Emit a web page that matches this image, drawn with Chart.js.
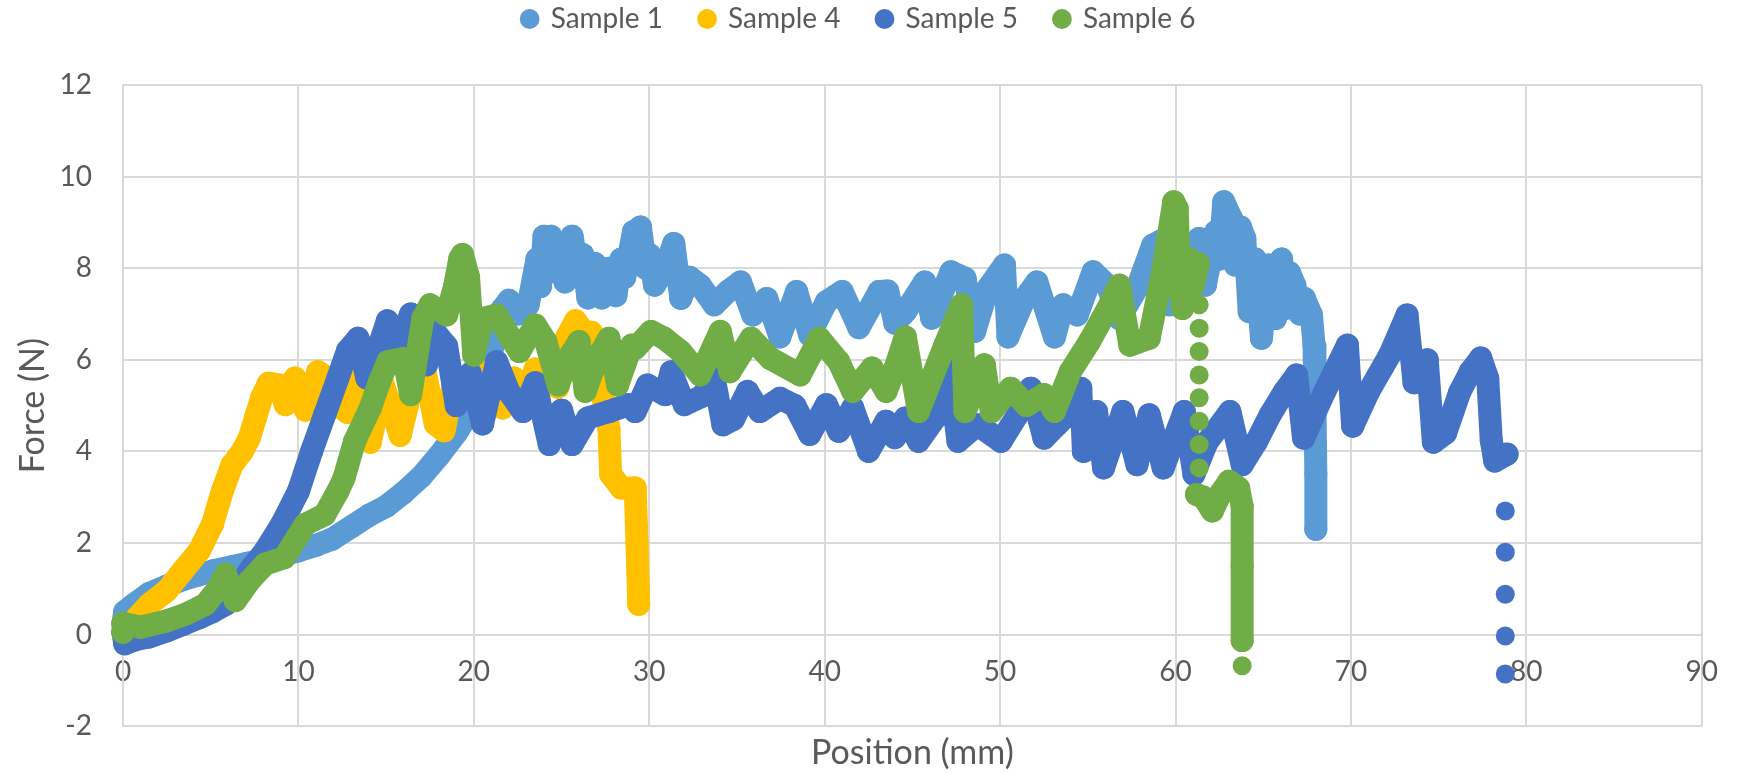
<!DOCTYPE html>
<html>
<head>
<meta charset="utf-8">
<title>Force vs Position</title>
<script src="https://cdn.jsdelivr.net/npm/chart.js@4.4.0/dist/chart.umd.min.js"></script>
<style>
  html, body { margin: 0; padding: 0; background: #fff; }
  #wrap { width: 1739px; height: 774px; }
</style>
</head>
<body>
<div id="wrap"><canvas id="forceChart" width="1739" height="774"></canvas></div>
<script>
// Force (N) against position (mm)
const seriesNames = ['Sample 1', 'Sample 4', 'Sample 5', 'Sample 6'];
const seriesColors = ['#5B9BD5', '#FFC000', '#4472C4', '#70AD47'];
const xTicks = [0, 10, 20, 30, 40, 50, 60, 70, 80, 90];
const yTicks = [-2, 0, 2, 4, 6, 8, 10, 12];

// [position, force]
const sample1 = [
  [0,0.25],[0.1,0.5],[0.6,0.65],[1.5,0.9],[2.5,1.06],[3.4,1.2],[4.3,1.3],[5.2,1.4],[6.2,1.48],[7.1,1.56],
  [8.1,1.64],[9,1.73],[10,1.83],[11,1.95],[11.9,2.08],[13,2.35],[14,2.6],[15,2.8],[16,3.1],[17,3.45],
  [18,3.9],[19,4.4],[20,5.0],[20.6,5.6],[21.1,6.3],[21.6,7.1],[22,7.3],[22.5,7.0],[23.1,7.2],[23.6,8.2],
  [23.8,7.6],[24,8.7],[24.2,7.9],[24.4,8.7],[24.8,7.9],[25,8.4],[25.2,7.7],[25.6,8.7],[25.9,8.0],[26.2,8.3],
  [26.5,7.35],[26.9,8.1],[27.3,7.35],[27.7,8.0],[28.1,7.4],[28.4,8.2],[28.6,7.8],[29.1,8.8],[29.3,8.1],[29.5,8.9],
  [29.8,8.0],[30,8.3],[30.3,7.63],[30.9,8.0],[31.4,8.54],[31.8,7.34],[32.3,7.8],[32.9,7.63],[33.7,7.2],[34.5,7.5],
  [35.2,7.7],[35.9,6.98],[36.7,7.34],[37.45,6.5],[38.4,7.49],[39.15,6.54],[40.1,7.27],[41,7.49],[41.95,6.7],[43.1,7.49],
  [43.6,7.5],[44,6.8],[44.6,7.05],[45.7,7.7],[46.1,6.91],[47.2,7.92],[48,7.78],[48.55,6.62],[49.3,7.56],[50.25,8.07],
  [50.45,6.5],[51.4,7.34],[52.1,7.7],[53.1,6.5],[53.6,7.2],[54.4,6.98],[55.3,7.92],[56.1,7.63],[56.8,6.9],[57.8,7.56],
  [58.7,8.5],[59.2,8.6],[59.65,7.2],[60.2,7.5],[60.8,8.3],[61.35,8.65],[61.7,7.63],[62.3,8.8],[62.5,8.2],[62.75,9.45],
  [63.2,9.08],[63.4,8.07],[63.7,8.9],[63.95,8.65],[64.2,7.05],[64.55,8.2],[64.9,6.47],[65.3,8.07],[65.7,6.9],[66.05,8.2],
  [66.25,7.12],[66.5,7.9],[66.8,7.63],[67.1,7.0],[67.35,7.34],[67.75,6.98],[67.9,6.3],[67.95,5.0],[68,3.5],[68,2.3]
];

const sample4 = [
  [0,0.05],[0.5,0.25],[1.5,0.66],[2.5,0.96],[3.4,1.39],[4.35,1.83],[5.1,2.41],[5.66,3.13],[6.22,3.71],[6.8,4.0],
  [7.2,4.29],[7.55,4.73],[7.9,5.17],[8.3,5.49],[8.9,5.45],[9.25,5.02],[9.8,5.6],[10.4,4.9],[11.1,5.74],[11.7,5.6],
  [12.3,5.0],[12.8,4.85],[13.2,5.7],[14.1,4.2],[14.8,5.5],[15.8,4.35],[16.6,5.6],[17.2,5.8],[17.8,4.6],[18.3,4.45],
  [18.9,5.6],[19.5,5.2],[20.3,5.75],[21,5.3],[21.65,4.95],[22.3,5.6],[23,5.2],[23.5,5.8],[24.2,5.5],[24.8,5.4],
  [25.3,6.5],[25.8,6.85],[26.3,6.6],[26.7,6.6],[27.3,5.3],[27.7,4.5],[27.8,3.5],[28.4,3.2],[29.2,3.2],[29.3,2.0],
  [29.4,0.66]
];

const sample5 = [
  [0,0.05],[0.1,-0.2],[0.8,-0.1],[1.5,-0.05],[2.5,0.08],[3.4,0.22],[4.35,0.37],[5.1,0.5],[5.85,0.66],[6.5,0.95],
  [7.2,1.39],[8.1,1.83],[9.05,2.41],[10,3.13],[10.75,4.0],[11.5,4.8],[12.25,5.6],[12.8,6.2],[13.4,6.47],[13.9,5.6],
  [14.5,6.2],[15.07,6.85],[15.6,6.25],[16.4,7.0],[16.8,6.9],[17.3,5.89],[17.8,6.6],[18.45,6.3],[19,5.0],[19.8,5.7],
  [20.5,4.6],[21.3,5.96],[22,5.3],[22.8,4.87],[23.5,5.5],[24.3,4.15],[25,4.9],[25.6,4.15],[26.5,4.73],[27.7,4.87],
  [28.8,5.02],[29.2,4.87],[29.9,5.45],[30.9,5.24],[31.25,5.74],[32,5.02],[33,5.2],[33.7,5.6],[34.2,4.58],[34.8,4.7],
  [35.6,5.31],[36.3,4.87],[37.45,5.16],[38.3,5.0],[39.15,4.37],[40.1,5.02],[40.8,4.44],[41.6,4.95],[42.5,4.0],[43.5,4.66],
  [44,4.3],[44.6,4.73],[45.35,4.22],[46.3,4.73],[47.05,5.89],[47.6,4.22],[48.7,4.58],[49.4,4.4],[50.05,4.22],[51,4.8],
  [51.75,5.38],[52.5,4.29],[53.3,4.6],[54,4.87],[54.6,5.38],[54.75,4.0],[55.5,4.87],[55.9,3.64],[57,4.87],[57.8,3.71],
  [58.5,4.8],[59.3,3.64],[60.5,4.87],[61.05,3.5],[61.8,4.2],[63.1,4.87],[63.8,3.71],[64.6,4.2],[65.4,4.8],[66.2,5.3],
  [66.9,5.67],[67.3,4.29],[68.5,5.3],[69.8,6.32],[70.1,4.55],[71,5.3],[72.2,6.1],[73.2,6.98],[73.6,5.5],[74.35,6.0],
  [74.7,4.2],[75.4,4.4],[76.2,5.29],[76.8,5.74],[77.4,6.04],[77.8,5.59],[78,4.24],[78.2,3.79],[78.9,3.94]
];
const sample5Tail = [[78.8,2.7],[78.8,1.8],[78.8,0.88],[78.8,-0.03],[78.8,-0.86]];

const sample6 = [
  [0,0.05],[0,0.25],[1,0.16],[2.5,0.3],[3.6,0.45],[4.7,0.66],[5.4,1.0],[5.85,1.32],[6.4,0.74],[7.2,1.17],
  [8.1,1.54],[9.2,1.68],[10.4,2.41],[11.5,2.62],[12.25,3.13],[12.6,3.42],[13.2,4.22],[14.1,4.95],[14.6,5.5],[15.1,5.96],
  [16,6.03],[16.4,5.24],[17.1,6.91],[17.5,7.2],[18.45,6.98],[18.9,7.6],[19.2,8.21],[19.35,8.3],[19.7,7.8],[20,6.1],
  [20.5,6.9],[21.3,6.98],[22,6.54],[22.6,6.18],[23.5,6.76],[24.1,6.4],[24.8,5.45],[25.5,6.1],[26,6.4],[26.35,5.31],
  [27,6.0],[27.7,6.47],[28.2,5.45],[29,6.32],[29.2,6.25],[30.1,6.62],[30.85,6.47],[31.8,6.18],[32.9,5.67],[34.05,6.62],
  [34.6,5.74],[35.8,6.47],[36.9,6.03],[38.6,5.67],[39.7,6.47],[40.8,5.96],[41.6,5.31],[42.7,5.82],[43.5,5.31],[44,5.8],
  [44.6,6.5],[45.35,4.87],[46.85,6.32],[47.8,7.2],[48,4.87],[49.1,5.89],[49.5,4.87],[50.6,5.38],[51.5,5.0],[52.5,5.24],
  [53.1,4.87],[54,5.74],[55.1,6.4],[56.25,7.2],[56.8,7.63],[57.4,6.32],[58.5,6.47],[59.3,8.0],[59.9,9.45],[60.1,9.3],
  [60.2,8.0],[60.4,7.12],[60.8,8.2],[61,7.6],[61.3,8.1]
];
// after the first drop
const sample6End = [[61.2,3.06],[61.6,3.0],[62.1,2.7],[62.6,3.1],[63.05,3.35],[63.6,3.2],[63.8,2.8],[63.8,1.5],[63.8,-0.13]];
// loose markers
const sample6Tail = [[61.35,7.2],[61.35,6.69],[61.35,6.18],[61.35,5.67],[61.35,5.17],[61.35,4.66],[61.35,4.15],[61.35,3.64],[63.8,-0.68]];

const textColor = '#595959';
const gridColor = '#d9d9d9';
const font = { family: 'Lato', size: 28 };
const titleFont = { family: 'Lato', size: 34, weight: 'normal', lineHeight: 1.0 };

function lineSet(i, pts) {
  return {
    label: seriesNames[i],
    data: pts.map(([x, y]) => ({ x, y })),
    showLine: true,
    borderColor: seriesColors[i],
    backgroundColor: seriesColors[i],
    borderWidth: 23,
    borderJoinStyle: 'round',
    borderCapStyle: 'round',
    pointRadius: 11.5,
    pointHoverRadius: 11.5,
    pointBorderWidth: 0,
    order: 4 - i,
    clip: false
  };
}

function dotSet(i, pts) {
  return Object.assign(lineSet(i, pts), { showLine: false, pointRadius: 9.5, pointHoverRadius: 9.5 });
}

const datasets = [
  lineSet(0, sample1),
  lineSet(1, sample4),
  lineSet(2, sample5),
  lineSet(3, sample6),
  lineSet(3, sample6End),
  dotSet(2, sample5Tail),
  dotSet(3, sample6Tail)
];

// legend sits high, chart area starts lower
const legendGap = {
  id: 'legendGap',
  beforeInit(chart) {
    const fit = chart.legend.fit;
    chart.legend.fit = function () {
      fit.call(this);
      this.height += 42;
    };
  }
};

new Chart(document.getElementById('forceChart'), {
  type: 'scatter',
  data: { datasets: datasets },
  options: {
    responsive: false,
    animation: false,
    devicePixelRatio: 1,
    layout: { padding: { top: -32, right: 21, bottom: 0, left: 0 } },
    plugins: {
      legend: {
        position: 'top',
        labels: {
          usePointStyle: true,
          boxWidth: 14,
          boxHeight: 14,
          padding: 37,
          color: textColor,
          font: font,
          filter: item => item.datasetIndex < 4,
          sort: (a, b) => a.datasetIndex - b.datasetIndex
        }
      },
      title: {
        display: true,
        position: 'bottom',
        fullSize: false,
        text: 'Position (mm)',
        color: textColor,
        font: titleFont,
        padding: { top: 10, bottom: 0 }
      },
      tooltip: { enabled: false }
    },
    scales: {
      x: {
        type: 'linear',
        min: 0,
        max: 90,
        position: { y: 0 },
        afterBuildTicks: scale => { scale.ticks = xTicks.map(v => ({ value: v })); },
        ticks: { color: textColor, font: font, padding: 21, maxRotation: 0 },
        grid: { color: gridColor, lineWidth: 2, drawTicks: false },
        border: { color: gridColor, width: 2 }
      },
      y: {
        type: 'linear',
        min: -2,
        max: 12,
        position: 'left',
        afterBuildTicks: scale => { scale.ticks = yTicks.map(v => ({ value: v })); },
        afterFit: scale => { scale.width = 123; },
        ticks: { color: textColor, font: font, padding: 31 },
        grid: { color: gridColor, lineWidth: 2, drawTicks: false },
        border: { color: gridColor, width: 2 },
        title: {
          display: true,
          text: 'Force (N)',
          color: textColor,
          font: titleFont,
          padding: { top: 16, bottom: 0 }
        }
      }
    }
  },
  plugins: [legendGap]
});
</script>
</body>
</html>
